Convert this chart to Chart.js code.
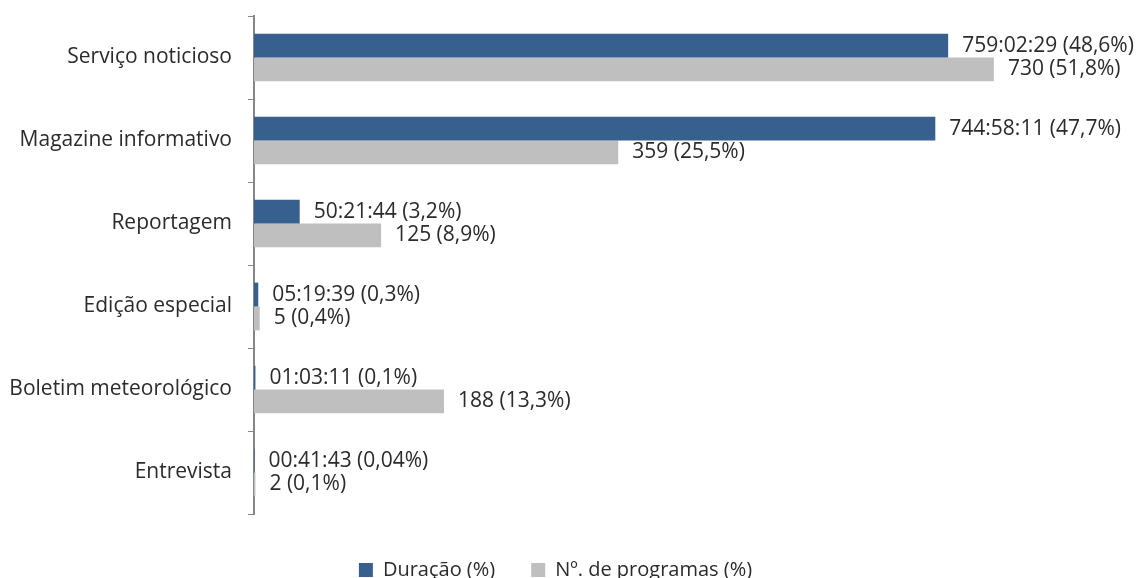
<!DOCTYPE html>
<html>
<head>
<meta charset="utf-8">
<script src="https://cdn.jsdelivr.net/npm/chart.js@4"></script>
<style>
  html, body { margin: 0; padding: 0; background: #fff; overflow: hidden; }
  #wrap { width: 1142px; height: 590px; }
</style>
</head>
<body>
<div id="wrap"><canvas id="chart"></canvas></div>
<script>
// Categories and series
const categories = ["Serviço noticioso", "Magazine informativo", "Reportagem", "Edição especial", "Boletim meteorológico", "Entrevista"];
const duracaoPct = [48.6, 47.7, 3.2, 0.3, 0.1, 0.04];
const programasPct = [51.8, 25.5, 8.9, 0.4, 13.3, 0.1];
const duracaoLabels = ["759:02:29 (48,6%)", "744:58:11 (47,7%)", "50:21:44 (3,2%)", "05:19:39 (0,3%)", "01:03:11 (0,1%)", "00:41:43 (0,04%)"];
const programasLabels = ["730 (51,8%)", "359 (25,5%)", "125 (8,9%)", "5 (0,4%)", "188 (13,3%)", "2 (0,1%)"];

const FONT = "'Open Sans', sans-serif";

// Draw value labels to the right of each bar
const barLabels = {
    id: "barLabels",
    afterDatasetsDraw(chart) {
        const ctx = chart.ctx;
        const texts = [duracaoLabels, programasLabels];
        ctx.save();
        ctx.font = "400 21px " + FONT;
        ctx.fillStyle = "#2b2b2b";
        ctx.textBaseline = "middle";
        ctx.textAlign = "left";
        chart.data.datasets.forEach((ds, i) => {
            chart.getDatasetMeta(i).data.forEach((bar, j) => {
                ctx.fillText(texts[i][j], bar.x + 14, bar.y);
            });
        });
        ctx.restore();
    }
};

new Chart(document.getElementById("chart"), {
    type: "bar",
    data: {
        labels: categories,
        datasets: [
            {
                label: "Duração (%)",
                data: duracaoPct,
                backgroundColor: "#37608F",
                categoryPercentage: 0.575,
                barPercentage: 1
            },
            {
                label: "Nº. de programas (%)",
                data: programasPct,
                backgroundColor: "#BFBFBF",
                categoryPercentage: 0.575,
                barPercentage: 1
            }
        ]
    },
    options: {
        indexAxis: "y",
        responsive: true,
        maintainAspectRatio: false,
        animation: false,
        layout: { padding: { top: 16, right: 31, bottom: 0, left: 0 } },
        scales: {
            x: {
                min: 0,
                max: 60,
                // invisible axis, only reserves the gap above the legend
                grid: { display: false },
                border: { display: false },
                ticks: { display: false },
                afterFit(scale) { scale.height = 10; }
            },
            y: {
                afterFit(scale) {
                    scale.width = 254;
                    scale.paddingTop = 0;
                    scale.paddingBottom = 0;
                },
                grid: {
                    display: true,
                    drawOnChartArea: false,
                    offset: true,
                    tickLength: 6,
                    color: "#868686"
                },
                border: { display: true, color: "#868686", width: 2 },
                ticks: {
                    color: "#2b2b2b",
                    padding: 16,
                    font: { family: FONT, size: 21, weight: "400" }
                }
            }
        },
        plugins: {
            legend: {
                position: "bottom",
                labels: {
                    boxWidth: 14,
                    boxHeight: 14,
                    padding: 36,
                    color: "#2b2b2b",
                    font: { family: FONT, size: 20, weight: "400" }
                }
            },
            tooltip: { enabled: false }
        }
    },
    plugins: [barLabels]
});
</script>
</body>
</html>
